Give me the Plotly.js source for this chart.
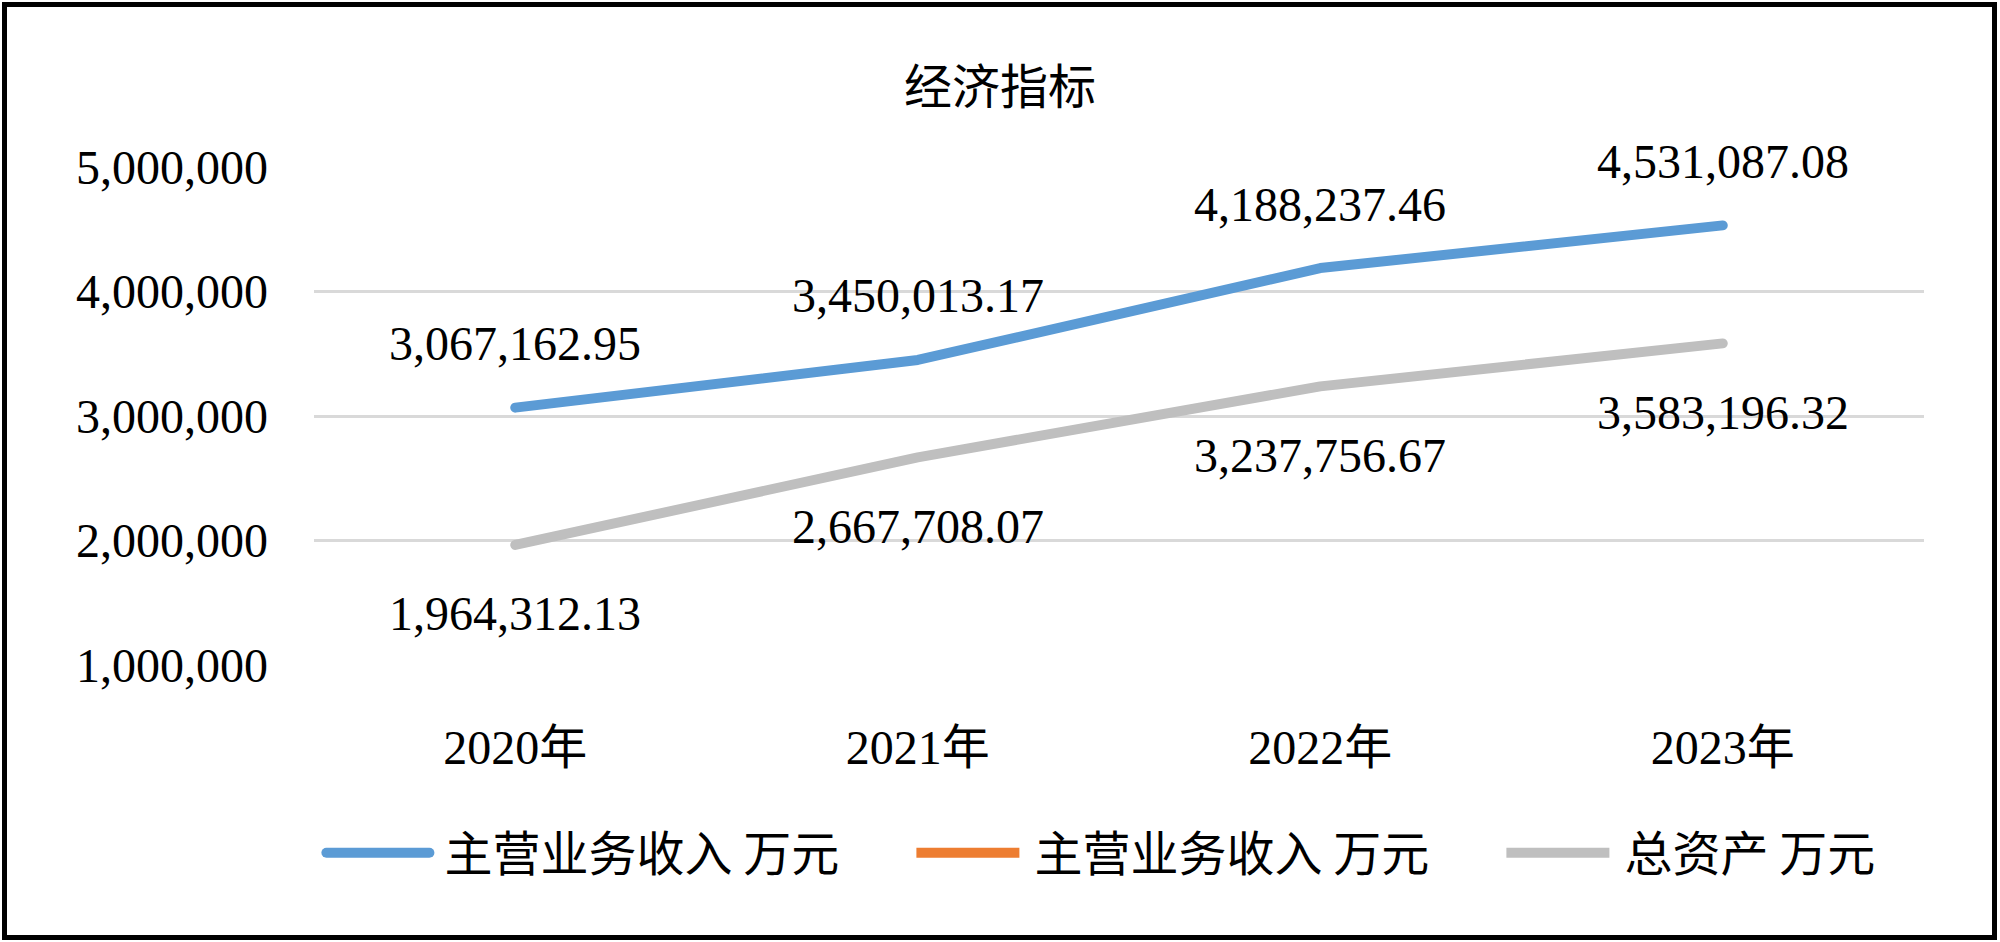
<!DOCTYPE html>
<html>
<head>
<meta charset="utf-8">
<script src="https://cdn.plot.ly/plotly-3.0.1.min.js"></script>
<style>
html,body{margin:0;padding:0;background:#fff;}
#wrap{position:relative;width:2000px;height:942px;}
#chart{width:2000px;height:942px;}
#frame{position:absolute;left:2px;top:2px;width:1995px;height:938px;border:5px solid #000;box-sizing:border-box;pointer-events:none;}
.scatterlayer path.js-line{stroke-linecap:round;stroke-linejoin:round;}
.legend path.js-line{stroke-linecap:round;}
</style>
</head>
<body>
<div id="wrap"><div id="chart"></div><div id="frame"></div></div>
<script>
const categories = ['2020年','2021年','2022年','2023年'];
const revenue = [3067162.95, 3450013.17, 4188237.46, 4531087.08];
const revenue2 = [null, null, null, null];
const assets = [1964312.13, 2667708.07, 3237756.67, 3583196.32];
const seriesNames = ['主营业务收入 万元','主营业务收入 万元','总资产 万元'];
const yTicks = [1000000, 2000000, 3000000, 4000000, 5000000];
const titleText = '经济指标';

const FONT = '"Liberation Serif", "Noto Sans CJK SC", serif';
const LFONT = {family:'"Noto Sans CJK SC", sans-serif', size:48, color:'#000'};
const fmt = v => v.toLocaleString('en-US', {minimumFractionDigits:2, maximumFractionDigits:2});

const traces = [
  {x: categories, y: revenue, name: seriesNames[0], type:'scatter', mode:'lines',
   line:{color:'#5B9BD5', width:10}, hoverinfo:'skip', legend:'legend'},
  {x: categories, y: revenue2, name: seriesNames[1], type:'scatter', mode:'lines',
   line:{color:'#ED7D31', width:10}, hoverinfo:'skip', showlegend:true, legend:'legend2'},
  {x: categories, y: assets, name: seriesNames[2], type:'scatter', mode:'lines',
   line:{color:'#BFBFBF', width:10}, hoverinfo:'skip', legend:'legend3'}
];

const annotations = [];
categories.forEach((c,i)=>{
  annotations.push({x:c, y:revenue[i], xref:'x', yref:'y', text:fmt(revenue[i]), showarrow:false,
    yshift:64, font:{family:FONT, size:48, color:'#000'}});
  annotations.push({x:c, y:assets[i], xref:'x', yref:'y', text:fmt(assets[i]), showarrow:false,
    yshift:-69, font:{family:FONT, size:48, color:'#000'}});
});

const legY = -(853-665)/498;
function leg(px){
  return {orientation:'h', x:(px-314)/1610, xanchor:'left', y:legY, yanchor:'middle',
    itemwidth:122, font:LFONT, bgcolor:'rgba(0,0,0,0)'};
}

const layout = {
  width:2000, height:942,
  margin:{l:314, r:76, t:167, b:277},
  paper_bgcolor:'#fff', plot_bgcolor:'#fff',
  font:{family:FONT, size:48, color:'#000'},
  title:{text:titleText, x:0.5, xanchor:'center', y:1-87/942, yanchor:'middle',
    font:{family:'"Noto Sans CJK SC", sans-serif', size:48, color:'#000'}},
  xaxis:{type:'category', range:[-0.5, 3.5], showgrid:false, zeroline:false, showline:false, ticks:'',
    ticklabelstandoff:50, tickfont:{family:FONT, size:48, color:'#000'}, fixedrange:true},
  yaxis:{range:[1000000, 5000000], tickvals:yTicks, tickformat:',d', showgrid:true,
    gridcolor:'#D9D9D9', gridwidth:3, zeroline:false, showline:false, ticks:'',
    ticklabelstandoff:45, tickfont:{family:FONT, size:48, color:'#000'}, fixedrange:true},
  showlegend:true,
  legend:leg(312.4),
  legend2:leg(902.4),
  legend3:leg(1492.4),
  annotations:annotations
};

Plotly.newPlot('chart', traces, layout, {staticPlot:true, displayModeBar:false}).then(gd=>{
  document.querySelectorAll('.legendlines path').forEach(p=>{
    p.setAttribute('d','M14,0h103');
  });
});
</script>
</body>
</html>
